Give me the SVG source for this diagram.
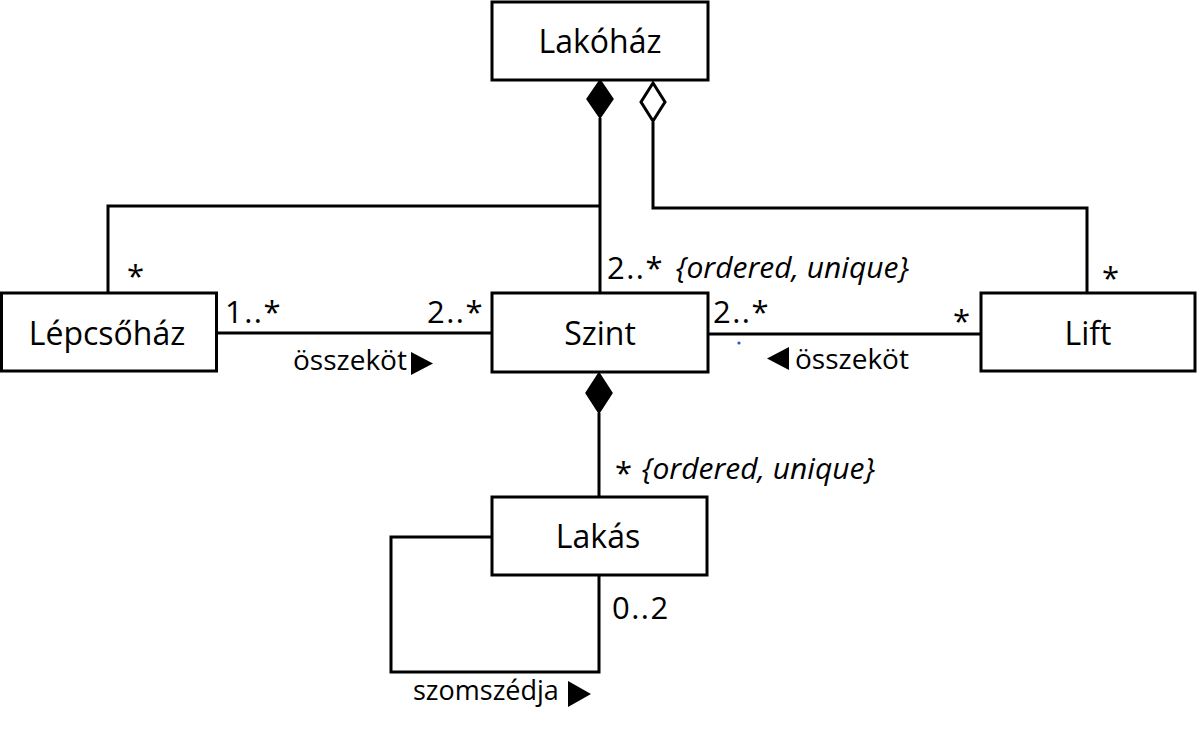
<svg xmlns="http://www.w3.org/2000/svg" width="1197" height="733" viewBox="0 0 1197 733">
<style>
.box{fill:#fff;stroke:#000;stroke-width:3}
.ln{fill:none;stroke:#000;stroke-width:3}
.nm{font-family:"Open Sans","Liberation Sans",sans-serif;font-size:32px;fill:#000;text-anchor:middle}
.lb{font-family:"Open Sans","Liberation Sans",sans-serif;font-size:31px;fill:#000;letter-spacing:1.5px}
.sm{font-family:"Open Sans","Liberation Sans",sans-serif;font-size:28px;fill:#000}
.it{font-family:"Open Sans","Liberation Sans",sans-serif;font-size:30px;font-style:italic;fill:#000}
</style>
<rect width="1197" height="733" fill="#fff"/>
<g id="connectors">
  <polyline class="ln" points="600,118 600,293"/>
  <polyline class="ln" points="600,206 108,206 108,293"/>
  <polyline class="ln" points="653,122 653,208 1087,208 1087,293"/>
  <line class="ln" x1="216" y1="333" x2="492" y2="333"/>
  <line class="ln" x1="708" y1="334" x2="981" y2="334"/>
  <line class="ln" x1="599" y1="413" x2="599" y2="497"/>
  <polyline class="ln" points="492,537 391,537 391,672 599,672 599,576"/>
  <polygon points="600,80 613,99 600,118 587,99" fill="#000" stroke="#000" stroke-width="1.5"/>
  <polygon points="653,83 665,102 653,121 641,102" fill="#fff" stroke="#000" stroke-width="3"/>
  <polygon points="599,373 612,393 599,413 586,393" fill="#000" stroke="#000" stroke-width="1.5"/>
  <polygon points="411,352 433,363.5 411,375" fill="#000"/>
  <polygon points="789,347 767,358.5 789,370" fill="#000"/>
  <polygon points="568,681 591,694 568,707" fill="#000"/>
  <circle cx="739" cy="343" r="1.6" fill="#3b4fd6"/>
  <text class="lb" x="127" y="287">*</text>
  <text class="lb" x="225" y="323">1..*</text>
  <text class="lb" x="427" y="323">2..*</text>
  <text class="sm" x="293" y="370">összeköt</text>
  <text class="lb" x="607" y="279">2..*</text>
  <text class="it" x="676" y="278">{ordered, unique}</text>
  <text class="lb" x="713" y="323">2..*</text>
  <text class="lb" x="953" y="332">*</text>
  <text class="sm" x="795" y="369">összeköt</text>
  <text class="lb" x="1102" y="289">*</text>
  <text class="lb" x="615" y="484">*</text>
  <text class="it" x="642" y="479">{ordered, unique}</text>
  <text class="lb" x="612" y="619">0..2</text>
  <text class="sm" x="413" y="700" style="font-size:27px">szomszédja</text>
</g>
<g id="lakohaz"><rect class="box" x="492" y="2" width="216" height="78"/><text class="nm" x="600" y="53">Lakóház</text></g>
<g id="lepcsohaz"><rect class="box" x="1.5" y="293" width="215" height="78"/><text class="nm" x="107" y="345">Lépcsőház</text></g>
<g id="szint"><rect class="box" x="492" y="293" width="216" height="79"/><text class="nm" x="600" y="345">Szint</text></g>
<g id="lift"><rect class="box" x="981" y="293" width="214" height="78"/><text class="nm" x="1088" y="345">Lift</text></g>
<g id="lakas"><rect class="box" x="492" y="497" width="215" height="78"/><text class="nm" x="598" y="548">Lakás</text></g>
</svg>
